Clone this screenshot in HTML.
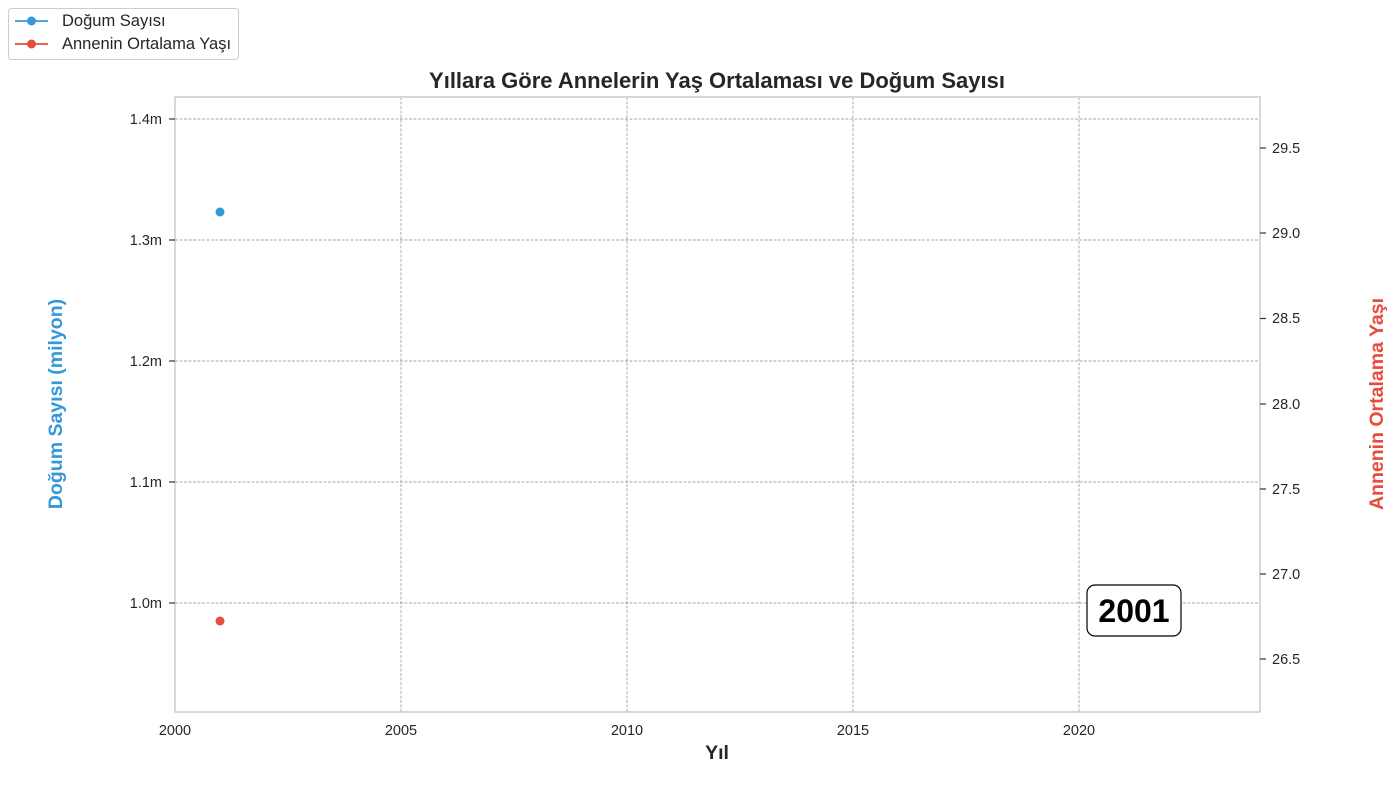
<!DOCTYPE html>
<html><head><meta charset="utf-8"><style>
html,body{margin:0;padding:0;background:#fff;}
svg{display:block;font-family:"Liberation Sans",Arial,sans-serif;}
</style></head><body>
<svg width="1400" height="800" viewBox="0 0 1400 800">
<rect width="1400" height="800" fill="#fff"/>
<g stroke="#8a8a8a" stroke-width="0.7" stroke-dasharray="3,1.5">
<line x1="401" y1="97" x2="401" y2="712"/>
<line x1="627" y1="97" x2="627" y2="712"/>
<line x1="853" y1="97" x2="853" y2="712"/>
<line x1="1079" y1="97" x2="1079" y2="712"/>
<line x1="175" y1="119" x2="1260" y2="119"/>
<line x1="175" y1="240" x2="1260" y2="240"/>
<line x1="175" y1="361" x2="1260" y2="361"/>
<line x1="175" y1="482" x2="1260" y2="482"/>
<line x1="175" y1="603" x2="1260" y2="603"/>
</g>
<rect x="175" y="97" width="1085" height="615" fill="none" stroke="#ccc" stroke-width="1.5"/>
<g stroke="#333" stroke-width="1.2">
<line x1="169" y1="119" x2="175" y2="119"/><line x1="169" y1="240" x2="175" y2="240"/>
<line x1="169" y1="361" x2="175" y2="361"/><line x1="169" y1="482" x2="175" y2="482"/>
<line x1="169" y1="603" x2="175" y2="603"/>
<line x1="1260" y1="148" x2="1266" y2="148"/><line x1="1260" y1="233" x2="1266" y2="233"/>
<line x1="1260" y1="318.5" x2="1266" y2="318.5"/><line x1="1260" y1="404" x2="1266" y2="404"/>
<line x1="1260" y1="489" x2="1266" y2="489"/><line x1="1260" y1="574" x2="1266" y2="574"/>
<line x1="1260" y1="659" x2="1266" y2="659"/>
</g>
<g font-size="14.5" fill="#262626" text-anchor="end">
<text x="162" y="124">1.4m</text><text x="162" y="245">1.3m</text>
<text x="162" y="366">1.2m</text><text x="162" y="487">1.1m</text>
<text x="162" y="608">1.0m</text>
</g>
<g font-size="14.5" fill="#262626">
<text x="1272" y="153">29.5</text><text x="1272" y="238">29.0</text>
<text x="1272" y="323">28.5</text><text x="1272" y="409">28.0</text>
<text x="1272" y="494">27.5</text><text x="1272" y="579">27.0</text>
<text x="1272" y="664">26.5</text>
</g>
<g font-size="14.5" fill="#262626" text-anchor="middle">
<text x="175" y="735">2000</text><text x="401" y="735">2005</text>
<text x="627" y="735">2010</text><text x="853" y="735">2015</text>
<text x="1079" y="735">2020</text>
</g>
<text x="717" y="759" font-size="19.5" font-weight="bold" fill="#262626" text-anchor="middle">Yıl</text>
<text x="717" y="88" font-size="22" font-weight="bold" fill="#262626" text-anchor="middle">Yıllara Göre Annelerin Yaş Ortalaması ve Doğum Sayısı</text>
<text transform="translate(62,404) rotate(-90)" font-size="19.5" font-weight="bold" fill="#3498db" text-anchor="middle">Doğum Sayısı (milyon)</text>
<text transform="translate(1383,404) rotate(-90)" font-size="19.5" font-weight="bold" fill="#e74c3c" text-anchor="middle">Annenin Ortalama Yaşı</text>
<circle cx="220" cy="212" r="4.5" fill="#3498db"/>
<circle cx="220" cy="621" r="4.5" fill="#e74c3c"/>
<rect x="1087" y="585" width="94" height="51" rx="8" fill="#fff" stroke="#000" stroke-width="1.2"/>
<text x="1134" y="622" font-size="32" font-weight="bold" fill="#000" text-anchor="middle">2001</text>
<rect x="8.5" y="8.5" width="230" height="51" rx="3" fill="#fff" stroke="#ccc" stroke-width="1"/>
<line x1="15" y1="21" x2="48" y2="21" stroke="#3498db" stroke-width="1.8"/>
<circle cx="31.5" cy="21" r="4.5" fill="#3498db"/>
<line x1="15" y1="44" x2="48" y2="44" stroke="#e74c3c" stroke-width="1.8"/>
<circle cx="31.5" cy="44" r="4.5" fill="#e74c3c"/>
<text x="62" y="26" font-size="16.5" fill="#262626">Doğum Sayısı</text>
<text x="62" y="49" font-size="16.5" fill="#262626">Annenin Ortalama Yaşı</text>
</svg>
</body></html>
